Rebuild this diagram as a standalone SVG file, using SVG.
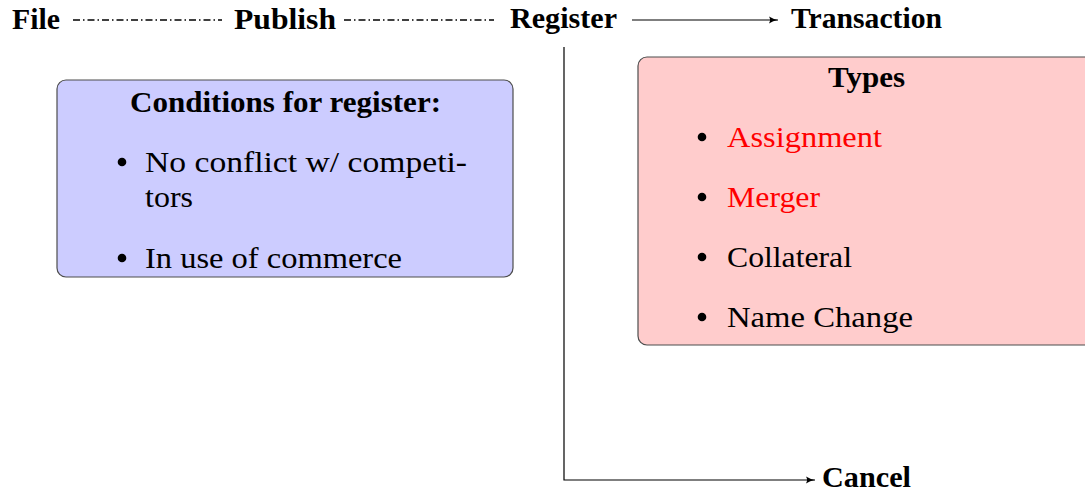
<svg xmlns="http://www.w3.org/2000/svg" width="1085" height="492" viewBox="0 0 1085 492">
<style>
text{font-family:"Liberation Serif","DejaVu Serif",serif;fill:#000}
.lbl{font-weight:bold;font-size:29px}
.ttl{font-weight:bold;font-size:29px}
.body{font-size:30px}
.red{fill:#ff0000}
.conn{fill:none;stroke:#000;stroke-width:1.2}
.dd{stroke-dasharray:7 3 1.5 3;stroke-width:1.3}
.box{stroke:#4d4d4d;stroke-width:1.2}
</style>
<defs>
<marker id="arr" markerWidth="10" markerHeight="8" refX="9" refY="4" orient="auto" markerUnits="userSpaceOnUse">
<path d="M0,0.6 Q4,3.2 9,4 Q4,4.8 0,7.4 Q2.2,4 0,0.6Z" fill="#000"/>
</marker>
</defs>
<rect width="1085" height="492" fill="#fff"/>
<g id="connectors">
<line class="conn dd" x1="73" y1="20" x2="222" y2="20"/>
<line class="conn dd" x1="344" y1="20" x2="494" y2="20"/>
<line class="conn" x1="632" y1="20" x2="778" y2="20" marker-end="url(#arr)"/>
<polyline class="conn" points="564,47 564,480 815,480" marker-end="url(#arr)"/>
</g>
<g id="file"><text class="lbl" x="12" y="29" textLength="48" lengthAdjust="spacingAndGlyphs">File</text></g>
<g id="publish"><text class="lbl" x="234" y="29" textLength="102" lengthAdjust="spacingAndGlyphs">Publish</text></g>
<g id="register"><text class="lbl" x="510" y="28" textLength="107" lengthAdjust="spacingAndGlyphs">Register</text></g>
<g id="transaction"><text class="lbl" x="791" y="28" textLength="151" lengthAdjust="spacingAndGlyphs">Transaction</text></g>
<g id="cancel"><text class="lbl" x="822" y="487" textLength="89" lengthAdjust="spacingAndGlyphs">Cancel</text></g>
<g id="conditions">
<rect class="box" x="57" y="80" width="456" height="197" rx="9" fill="#ccccff"/>
<text class="ttl" x="130" y="112" textLength="311" lengthAdjust="spacingAndGlyphs">Conditions for register:</text>
<circle cx="122" cy="162" r="4.3"/>
<text class="body" x="145" y="172" textLength="322" lengthAdjust="spacingAndGlyphs">No conflict w/ competi-</text>
<text class="body" x="145" y="207" textLength="48" lengthAdjust="spacingAndGlyphs">tors</text>
<circle cx="122" cy="258" r="4.3"/>
<text class="body" x="145" y="268" textLength="257" lengthAdjust="spacingAndGlyphs">In use of commerce</text>
</g>
<g id="types">
<rect class="box" x="638" y="57" width="470" height="288" rx="9" fill="#ffcccc"/>
<text class="ttl" x="828" y="87" textLength="77" lengthAdjust="spacingAndGlyphs">Types</text>
<circle cx="702" cy="137" r="4.3"/>
<text class="body red" x="727" y="147" textLength="155" lengthAdjust="spacingAndGlyphs">Assignment</text>
<circle cx="702" cy="197" r="4.3"/>
<text class="body red" x="727" y="207" textLength="93" lengthAdjust="spacingAndGlyphs">Merger</text>
<circle cx="702" cy="257" r="4.3"/>
<text class="body" x="727" y="267" textLength="125" lengthAdjust="spacingAndGlyphs">Collateral</text>
<circle cx="702" cy="317" r="4.3"/>
<text class="body" x="727" y="327" textLength="186" lengthAdjust="spacingAndGlyphs">Name Change</text>
</g>
</svg>
